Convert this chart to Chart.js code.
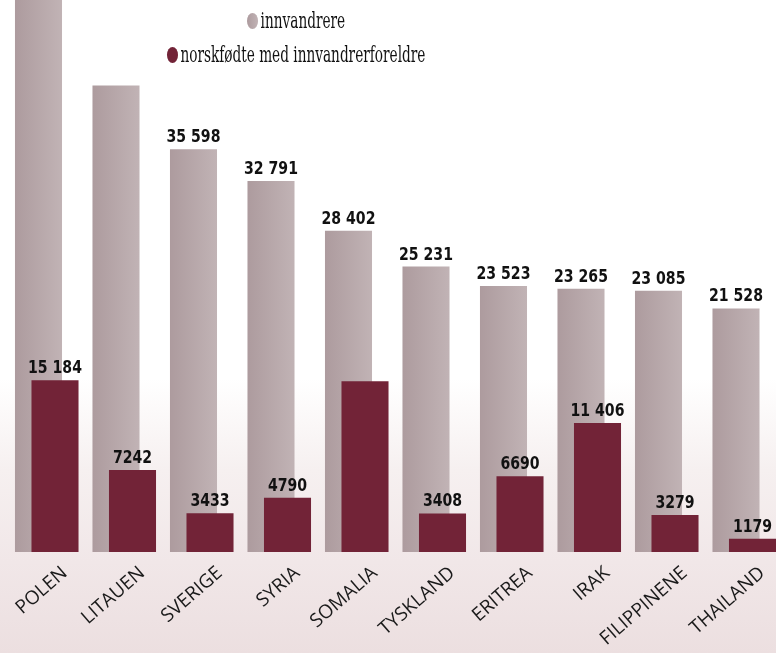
<!DOCTYPE html>
<html lang="no">
<head>
<meta charset="utf-8">
<title>Innvandrere og norskfødte med innvandrerforeldre</title>
<script src="https://cdn.jsdelivr.net/npm/chart.js@4"></script>
<style>
  html, body { margin: 0; padding: 0; width: 776px; height: 653px; overflow: hidden; }
  body {
    position: relative;
    background: linear-gradient(to bottom, #ffffff 0%, #ffffff 58%, #f6f0f0 72%, #f1e7e8 86%, #ecdfe0 100%);
  }
  #ramme { position: absolute; left: 0; top: 0; width: 790px; height: 653px; }
  #forklaring {
    position: absolute; left: 96px; top: 4px; width: 400px;
    transform: scaleX(0.69); transform-origin: 200px 0;
    font-family: 'DejaVu Serif Condensed', 'DejaVu Serif', serif;
    font-size: 22px; color: #111; text-align: center;
  }
  .rad { height: 34px; line-height: 34px; white-space: nowrap; }
  .prikk { display: inline-block; width: 16px; height: 16px; border-radius: 50%; margin-right: 4px; vertical-align: -1px; }
</style>
</head>
<body>
<div id="ramme"><canvas id="graf" width="790" height="653"></canvas></div>
<div id="forklaring">
  <div class="rad"><span class="prikk" style="background:linear-gradient(to right,#ad9b9e,#c1b3b5)"></span>innvandrere</div>
  <div class="rad"><span class="prikk" style="background:#722337"></span>norskfødte med innvandrerforeldre</div>
</div>
<script>
const land = ['POLEN', 'LITAUEN', 'SVERIGE', 'SYRIA', 'SOMALIA', 'TYSKLAND', 'ERITREA', 'IRAK', 'FILIPPINENE', 'THAILAND'];
// Polen går langt over toppen av grafen; verdien er anslått
const innvandrere = [106000, 41250, 35598, 32791, 28402, 25231, 23523, 23265, 23085, 21528];
const norskfodte = [15184, 7242, 3433, 4790, 15100, 3408, 6690, 11406, 3279, 1179];
// tall som ikke får etikett i originalen
const utenEtikettInnv = [0, 1];
const utenEtikettNorsk = [4];

const lys1 = '#ad9b9e', lys2 = '#c1b3b5', mork = '#722337';

function formatTall(v) {
  return v >= 10000 ? String(v).replace(/\B(?=(\d{3})+(?!\d))/g, ' ') : String(v);
}

// mørke søyler skal ligge oppå de lyse
const morkOverst = {
  id: 'morkOverst',
  beforeDatasetDraw(chart, args) {
    if (args.index === 1) return false;
  },
  afterDatasetsDraw(chart) {
    chart.getDatasetMeta(1).controller.draw();
  }
};

const etiketter = {
  id: 'etiketter',
  afterDatasetsDraw(chart) {
    const ctx = chart.ctx;
    ctx.save();
    ctx.font = "bold 18px 'DejaVu Sans Condensed', 'DejaVu Sans', sans-serif";
    ctx.fillStyle = '#111';
    ctx.textAlign = 'center';
    ctx.textBaseline = 'alphabetic';
    [[innvandrere, utenEtikettInnv], [norskfodte, utenEtikettNorsk]].forEach(([verdier, uten], di) => {
      chart.getDatasetMeta(di).data.forEach((bar, i) => {
        if (uten.includes(i)) return;
        ctx.save();
        ctx.translate(bar.x, bar.y - 7);
        ctx.scale(0.87, 1);
        ctx.fillText(formatTall(verdier[i]), 0, 0);
        ctx.restore();
      });
    });
    ctx.restore();
  }
};

function lysGradient(c) {
  const el = c.element;
  if (!el || el.x == null || !el.width) return lys2;
  const g = c.chart.ctx.createLinearGradient(el.x - el.width / 2, 0, el.x + el.width / 2, 0);
  g.addColorStop(0, lys1);
  g.addColorStop(1, lys2);
  return g;
}

const graf = new Chart(document.getElementById('graf'), {
  type: 'bar',
  data: {
    labels: land,
    datasets: [
      { label: 'innvandrere', data: innvandrere, backgroundColor: lysGradient },
      { label: 'norskfødte med innvandrerforeldre', data: norskfodte, backgroundColor: mork }
    ]
  },
  options: {
    responsive: false,
    animation: false,
    events: [],
    categoryPercentage: 0.426,
    barPercentage: 2.85,
    layout: { padding: { left: 8, right: 7, top: 0, bottom: 0 } },
    plugins: {
      legend: { display: false },
      tooltip: { enabled: false }
    },
    scales: {
      x: {
        grid: { display: false, drawTicks: false },
        border: { display: false },
        ticks: {
          maxRotation: 41, minRotation: 41,
          padding: 10,
          labelOffset: 18,
          color: '#1a1a1a',
          font: { family: "'Open Sans', sans-serif", size: 19 }
        },
        afterFit(s) {
          s.height = 101;
          s.paddingLeft = 0;
          s.paddingRight = 0;
        }
      },
      y: {
        display: false,
        min: 0,
        max: 48800
      }
    }
  },
  plugins: [morkOverst, etiketter]
});
graf.update('none');
</script>
</body>
</html>
